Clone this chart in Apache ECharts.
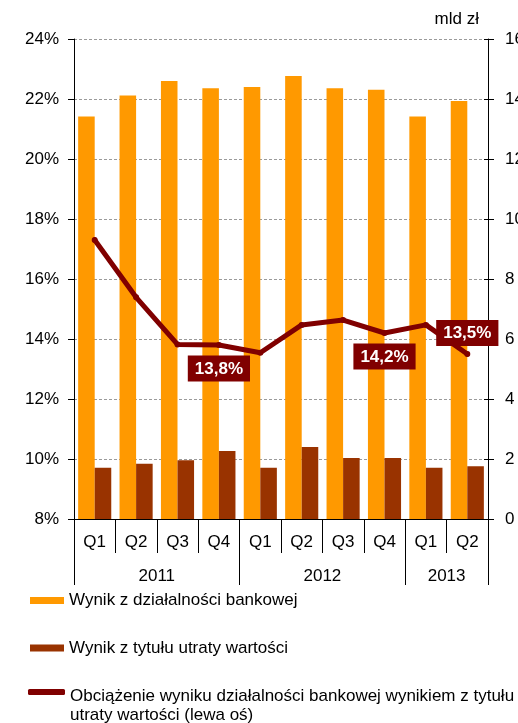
<!DOCTYPE html>
<html>
<head>
<meta charset="utf-8">
<script src="https://cdn.jsdelivr.net/npm/echarts@6/dist/echarts.min.js"></script>
<style>
  html, body { margin: 0; padding: 0; background: #fff; }
  #chart { width: 518px; height: 723px; }
</style>
</head>
<body>
<div id="chart"></div>
<script>
// Quarterly categories and the years they belong to
const quarters = ['Q1', 'Q2', 'Q3', 'Q4', 'Q1', 'Q2', 'Q3', 'Q4', 'Q1', 'Q2'];
const years = ['2011', '2012', '2013'];
const quartersPerYear = [4, 4, 2];

// Series values (bars in bn PLN on the right axis, ratio in % on the left axis)
const bankingResult = [13.42, 14.12, 14.6, 14.36, 14.4, 14.77, 14.36, 14.31, 13.42, 13.93];
const impairmentResult = [1.71, 1.84, 1.96, 2.27, 1.71, 2.4, 2.03, 2.03, 1.71, 1.76];
const burdenRatio = [17.3, 15.39, 13.82, 13.8, 13.54, 14.47, 14.63, 14.2, 14.47, 13.5];

// Points whose value is written in a callout box
const calloutIndex = [3, 7, 9];

// Axis ticks
const leftTicks = { min: 8, max: 24, step: 2 };
const rightTicks = { min: 0, max: 16, step: 2 };

const seriesNames = [
  'Wynik z działalności bankowej',
  'Wynik z tytułu utraty wartości',
  'Obciążenie wyniku działalności bankowej wynikiem z tytułu utraty wartości (lewa oś)'
];

const FONT = "'Liberation Sans', Arial, sans-serif";
const fmtPct = v => v.toFixed(1).replace('.', ',') + '%';

// Year group boundaries and centres on a 0..N scale
const yearEdges = [0];
quartersPerYear.forEach(n => yearEdges.push(yearEdges[yearEdges.length - 1] + n));
const yearCentres = years.map((_, i) => (yearEdges[i] + yearEdges[i + 1]) / 2);

const lineData = burdenRatio.map((v, i) => {
  const k = calloutIndex.indexOf(i);
  if (k < 0) return v;
  const above = k === calloutIndex.length - 1;
  return {
    value: v,
    label: { show: true, position: above ? 'top' : 'bottom', distance: above ? 5 : 7.5 }
  };
});

const chart = echarts.init(document.getElementById('chart'), null, { renderer: 'canvas' });

const legendBase = {
  orient: 'vertical',
  left: 30,
  padding: 0,
  itemWidth: 34,
  itemGap: 6,
  selectedMode: false,
  textStyle: { fontFamily: FONT, fontSize: 17, color: '#000' }
};

// Right axis ticks cross the axis line: one outward set, one inward set
const rightAxisBase = {
  type: 'value',
  min: rightTicks.min,
  max: rightTicks.max,
  interval: rightTicks.step,
  position: 'right',
  splitLine: { show: false }
};

chart.setOption({
  animation: false,
  textStyle: { fontFamily: FONT },
  grid: { left: 74, right: 30, top: 39, bottom: 204, containLabel: false, outerBoundsMode: 'none' },
  legend: [
    Object.assign({}, legendBase, {
      top: 592, data: [seriesNames[0]], icon: 'rect', itemHeight: 7
    }),
    Object.assign({}, legendBase, {
      top: 639.5, data: [seriesNames[1]], icon: 'rect', itemHeight: 7
    }),
    Object.assign({}, legendBase, {
      top: 668, left: 28, itemWidth: 37, data: [seriesNames[2]], icon: 'roundRect', itemHeight: 6,
      formatter: name => '{sp| }\n{t|' + name.replace(' utraty', '}\n{t|utraty') + '}',
      textStyle: {
        fontFamily: FONT, fontSize: 17, color: '#000',
        rich: {
          sp: { fontSize: 10, lineHeight: 27 },
          t: { fontFamily: FONT, fontSize: 17, color: '#000', lineHeight: 19 }
        }
      }
    })
  ],
  xAxis: [
    {
      type: 'category',
      data: quarters,
      boundaryGap: true,
      axisLine: { show: true, lineStyle: { color: '#000', width: 1 } },
      axisTick: { show: true, length: 34, alignWithLabel: false, lineStyle: { color: '#000' } },
      axisLabel: { fontSize: 17, color: '#000', margin: 15, interval: 0 },
      splitLine: { show: false }
    },
    {
      type: 'value',
      position: 'bottom',
      min: 0,
      max: quarters.length,
      axisLine: { show: false },
      axisTick: {
        show: true, length: 66, customValues: yearEdges,
        lineStyle: { color: '#000' }
      },
      axisLabel: {
        show: true, fontSize: 17, color: '#000', margin: 49,
        customValues: yearCentres,
        formatter: v => {
          const i = yearCentres.indexOf(v);
          return i >= 0 ? years[i] : '';
        }
      },
      splitLine: { show: false }
    }
  ],
  yAxis: [
    {
      type: 'value',
      min: leftTicks.min,
      max: leftTicks.max,
      interval: leftTicks.step,
      position: 'left',
      axisLine: { show: true, lineStyle: { color: '#000' } },
      axisTick: { show: true, length: 6, lineStyle: { color: '#000' } },
      axisLabel: { fontSize: 17, color: '#000', margin: 15, formatter: v => v + '%' },
      splitLine: { show: true, lineStyle: { color: '#9a9a9a', type: [3, 2], width: 1 } }
    },
    Object.assign({}, rightAxisBase, {
      name: 'mld zł',
      nameLocation: 'end',
      nameGap: 11,
      nameTextStyle: { fontSize: 17, color: '#000', align: 'right', padding: [0, 9, 0, 0] },
      axisLine: { show: true, lineStyle: { color: '#000' } },
      axisTick: { show: true, length: 6, lineStyle: { color: '#000' } },
      axisLabel: { fontSize: 17, color: '#000', margin: 17 }
    }),
    Object.assign({}, rightAxisBase, {
      axisLine: { show: false },
      axisTick: { show: true, inside: true, length: 4, lineStyle: { color: '#000' } },
      axisLabel: { show: false }
    })
  ],
  series: [
    {
      name: seriesNames[0],
      type: 'bar',
      yAxisIndex: 1,
      data: bankingResult,
      barGap: 0,
      barCategoryGap: '20%',
      itemStyle: { color: '#FF9900' },
      emphasis: { disabled: true }
    },
    {
      name: seriesNames[1],
      type: 'bar',
      yAxisIndex: 1,
      data: impairmentResult,
      barGap: 0,
      barCategoryGap: '20%',
      itemStyle: { color: '#993300' },
      emphasis: { disabled: true }
    },
    {
      name: seriesNames[2],
      type: 'line',
      yAxisIndex: 0,
      data: lineData,
      symbol: 'circle',
      symbolSize: 6,
      showSymbol: true,
      lineStyle: { color: '#800000', width: 5, join: 'round', cap: 'round' },
      itemStyle: { color: '#800000' },
      label: {
        show: false,
        formatter: p => fmtPct(p.value),
        backgroundColor: '#800000',
        color: '#fff',
        fontWeight: 'bold',
        fontSize: 17,
        padding: [5, 7, 4, 7]
      },
      emphasis: { disabled: true },
      z: 5
    }
  ]
});
</script>
</body>
</html>
